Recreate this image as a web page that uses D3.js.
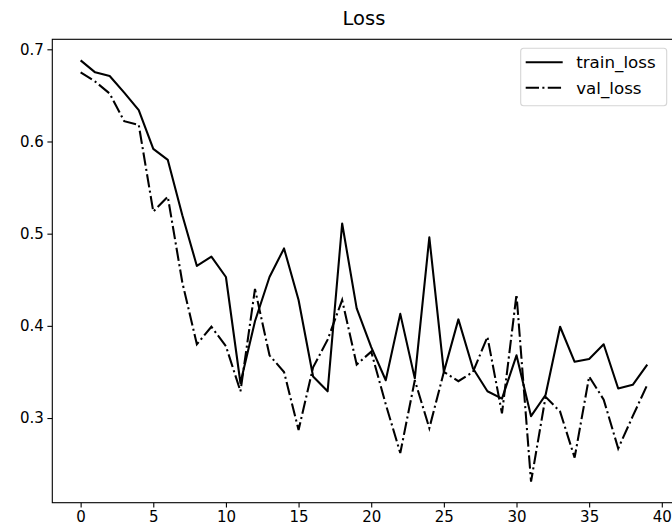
<!DOCTYPE html>
<html>
<head>
<meta charset="utf-8">
<script src="https://cdn.jsdelivr.net/npm/d3@7"></script>
<style>
  body { margin: 0; background: #fff; }
  svg { display: block; font-family: "DejaVu Sans", sans-serif; }
</style>
</head>
<body>
<div id="chart"></div>
<script>
// data
const epochs = d3.range(0, 40);
const trainLoss = [0.688, 0.675, 0.671, 0.653, 0.634, 0.592, 0.580, 0.520, 0.465, 0.475,
                   0.453, 0.338, 0.405, 0.453, 0.484, 0.428, 0.345, 0.329, 0.511, 0.419,
                   0.377, 0.341, 0.413, 0.343, 0.496, 0.350, 0.407, 0.354, 0.329, 0.321,
                   0.368, 0.302, 0.325, 0.399, 0.361, 0.364, 0.380, 0.332, 0.336, 0.358];
const valLoss = [0.675, 0.665, 0.652, 0.622, 0.618, 0.524, 0.540, 0.447, 0.380, 0.399,
                 0.378, 0.329, 0.440, 0.368, 0.350, 0.287, 0.355, 0.385, 0.428, 0.358,
                 0.372, 0.315, 0.262, 0.341, 0.289, 0.350, 0.340, 0.350, 0.388, 0.305,
                 0.434, 0.231, 0.323, 0.307, 0.257, 0.345, 0.320, 0.267, 0.302, 0.336];
const xTicks = [0, 5, 10, 15, 20, 25, 30, 35, 40];
const yTicks = [0.3, 0.4, 0.5, 0.6, 0.7];
const seriesNames = ["train_loss", "val_loss"];

const W = 672, H = 532;
const plot = { left: 52.3, top: 39.3, right: 675.6, bottom: 502.7 };
const lw = 2.08;
const dashDot = [6.4 * lw, 1.6 * lw, 1 * lw, 1.6 * lw].join(",");

const svg = d3.select("#chart").append("svg")
    .attr("width", W)
    .attr("height", H);

// scales with matplotlib-like 5% margins
const xMin = d3.min(epochs), xMax = d3.max(epochs);
const xPad = (xMax - xMin) * 0.05;
const x = d3.scaleLinear()
    .domain([xMin - xPad, xMax + xPad])
    .range([plot.left, plot.right]);

const all = trainLoss.concat(valLoss);
const yMin = d3.min(all), yMax = d3.max(all);
const yPad = (yMax - yMin) * 0.05;
const y = d3.scaleLinear()
    .domain([yMin - yPad, yMax + yPad])
    .range([plot.bottom, plot.top]);

// lines
const line = d3.line()
    .x((d, i) => x(epochs[i]))
    .y(d => y(d));

svg.append("path")
    .datum(trainLoss)
    .attr("fill", "none")
    .attr("stroke", "#000")
    .attr("stroke-width", lw)
    .attr("stroke-linejoin", "round")
    .attr("d", line);

svg.append("path")
    .datum(valLoss)
    .attr("fill", "none")
    .attr("stroke", "#000")
    .attr("stroke-width", lw)
    .attr("stroke-dasharray", dashDot)
    .attr("d", line);

// axes
const xAxis = svg.append("g")
    .attr("transform", `translate(0,${plot.bottom})`)
    .call(d3.axisBottom(x).tickValues(xTicks).tickSize(4.9).tickPadding(3.5).tickFormat(d3.format("d")));

const yAxis = svg.append("g")
    .attr("transform", `translate(${plot.left},0)`)
    .call(d3.axisLeft(y).tickValues(yTicks).tickSize(4.9).tickPadding(3.5).tickFormat(d3.format(".1f")));

[xAxis, yAxis].forEach(g => {
    g.select(".domain").remove();
    g.selectAll(".tick line").attr("stroke", "#000").attr("stroke-width", 1.1);
    g.selectAll(".tick text")
        .attr("fill", "#000")
        .style("font-size", "15px")
        .style("font-family", "DejaVu Sans, sans-serif");
});

// spines
svg.append("rect")
    .attr("x", plot.left)
    .attr("y", plot.top)
    .attr("width", plot.right - plot.left)
    .attr("height", plot.bottom - plot.top)
    .attr("fill", "none")
    .attr("stroke", "#000")
    .attr("stroke-width", 1.1);

// title
svg.append("text")
    .attr("x", (plot.left + plot.right) / 2)
    .attr("y", plot.top - 14)
    .attr("text-anchor", "middle")
    .style("font-size", "19.5px")
    .text("Loss");

// legend
const legend = svg.append("g").attr("transform", "translate(520.7,48.3)");
legend.append("rect")
    .attr("width", 146)
    .attr("height", 57.4)
    .attr("rx", 3)
    .attr("fill", "#fff")
    .attr("fill-opacity", 0.8)
    .attr("stroke", "#d5d5d5")
    .attr("stroke-width", 1.1);

seriesNames.forEach((name, i) => {
    const row = legend.append("g").attr("transform", `translate(0,${14 + i * 25.4})`);
    row.append("line")
        .attr("x1", 5).attr("x2", 42)
        .attr("stroke", "#000")
        .attr("stroke-width", lw)
        .attr("stroke-dasharray", i === 1 ? dashDot : null);
    row.append("text")
        .attr("x", 55.5)
        .attr("y", 0)
        .attr("dy", "0.35em")
        .style("font-size", "16.7px")
        .text(name);
});
</script>
</body>
</html>
